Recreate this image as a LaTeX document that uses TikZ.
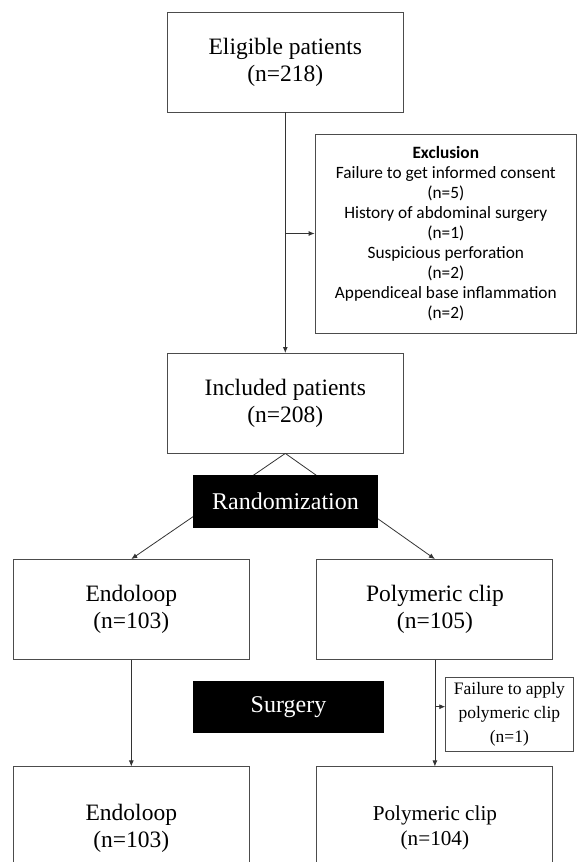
\documentclass[tikz,border=0pt]{standalone}
\usepackage{fontspec}
\setmainfont{Liberation Serif}
\newfontfamily\calibri{Carlito}
\usetikzlibrary{arrows.meta,positioning}

\begin{document}
\begin{tikzpicture}[
    x=1pt, y=-1pt,
    box/.style={rectangle, draw=black!70, line width=0.9pt, minimum width=236pt, minimum height=99.5pt, align=center, inner sep=0pt, font=\fontsize{23.5}{27}\selectfont},
    dark/.style={rectangle, fill=black, text=white, align=center, inner sep=0pt, font=\fontsize{24}{27}\selectfont},
    side/.style={rectangle, draw=black!70, line width=0.9pt, align=center, inner sep=0pt},
    arrow/.style={-{Latex[length=6pt,width=5pt]}, line width=0.8pt, draw=black!80},
    line/.style={line width=0.8pt, draw=black!80}
]
\useasboundingbox (0,0) rectangle (578,862);
\clip (0,0) rectangle (578,862);

% Main boxes
\node[box] (elig) at (285.3,62.2) {Eligible patients\\(n=218)};
\node[box, below=240.6pt of elig] (incl) {Included patients\\(n=208)};

% Exclusion
\node[side, minimum width=261.5pt, minimum height=199pt, font=\calibri\fontsize{17.3}{20}\selectfont] (excl) at (445.8,233.5)
    {{\bfseries Exclusion}\\Failure to get informed consent\\(n=5)\\History of abdominal surgery\\(n=1)\\Suspicious perforation\\(n=2)\\Appendiceal base inflammation\\(n=2)};

% Arms
\node[box, minimum height=100pt] (endo1) at (131.3,609.5) {Endoloop\\(n=103)};
\node[box, minimum height=100pt, right=66.7pt of endo1] (poly1) {Polymeric clip\\(n=105)};
\node[box, minimum height=122pt, below=106.5pt of endo1] (endo2) {Endoloop\\(n=103)};
\node[box, minimum height=122pt, below=106.5pt of poly1, font=\fontsize{21.2}{25}\selectfont] (poly2) {Polymeric clip\\(n=104)};

% Failure after surgery
\node[side, minimum width=127.3pt, minimum height=74.4pt, font=\fontsize{17.5}{24}\selectfont] (fail) at (509.4,714.5)
    {Failure to apply\\polymeric clip\\(n=1)};

% Connections
\draw[arrow] (elig) -- (incl);
\coordinate (ex) at (elig.south |- excl.west);
\draw[arrow] (ex) -- (excl.west);

\draw[arrow] (incl.south) -- (endo1.north);
\draw[arrow] (incl.south) -- (poly1.north);

\draw[arrow] (endo1) -- (endo2);
\draw[arrow] (poly1) -- (poly2);
\coordinate (fx) at (poly1.south |- 0,706.7);
\draw[arrow] (fx) -- (fx -| fail.west);

% Black labels on top
\node[dark, minimum width=185.6pt, minimum height=53.3pt] (rand) at (285.5,501.7) {Randomization};
\node[dark, minimum width=191pt, minimum height=52.3pt] (surg) at (288.5,706.9) {Surgery};

\end{tikzpicture}
\end{document}
